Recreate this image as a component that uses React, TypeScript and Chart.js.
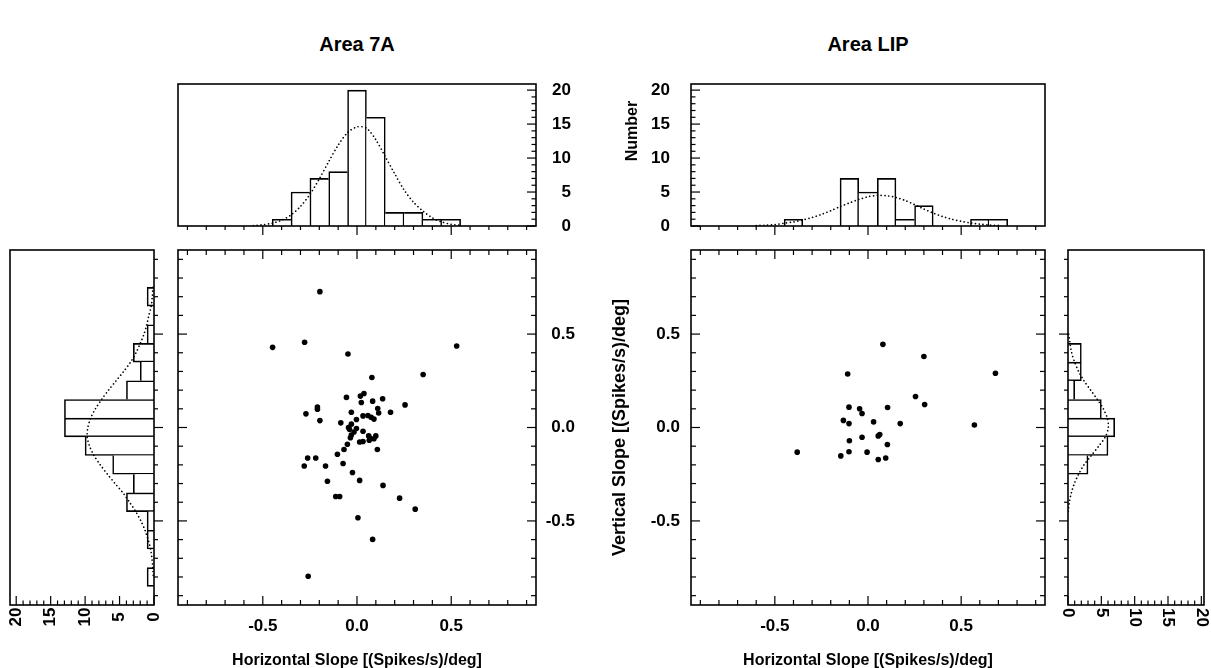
import React, { useEffect, useRef } from "react";
import { Chart, registerables } from "chart.js";

Chart.register(...registerables);

// ---------------- DATA ----------------
// Area 7A: horizontal slope histogram (top)
const binCenters7A_H = [-0.4, -0.3, -0.2, -0.1, 0.0, 0.1, 0.2, 0.3, 0.4, 0.5];
const counts7A_H = [1, 5, 7, 8, 20, 16, 2, 2, 1, 1];
// Area 7A: vertical slope histogram (side)
const binCenters7A_V = [0.7, 0.5, 0.4, 0.3, 0.2, 0.1, 0.0, -0.1, -0.2, -0.3, -0.4, -0.5, -0.6, -0.8];
const counts7A_V = [1, 1, 3, 2, 4, 13, 13, 10, 6, 3, 4, 1, 1, 1];
// Area LIP: horizontal slope histogram (top)
const binCentersLIP_H = [-0.4, -0.1, 0.0, 0.1, 0.2, 0.3, 0.6, 0.7];
const countsLIP_H = [1, 7, 5, 7, 1, 3, 1, 1];
// Area LIP: vertical slope histogram (side)
const binCentersLIP_V = [0.4, 0.3, 0.2, 0.1, 0.0, -0.1, -0.2];
const countsLIP_V = [2, 2, 1, 5, 7, 6, 3];

// Fitted (dotted) curves
const fit7A_H_x = [-0.55, -0.5, -0.45, -0.4, -0.35, -0.3, -0.25, -0.2, -0.15, -0.1, -0.05, 0.0, 0.05, 0.1, 0.15, 0.2, 0.25, 0.3, 0.35, 0.4, 0.45, 0.5, 0.55];
const fit7A_H_y = [0.07, 0.18, 0.41, 0.85, 1.63, 2.88, 4.66, 6.93, 9.48, 11.9, 13.74, 14.58, 14.4, 12.7, 10.2, 7.7, 5.3, 3.5, 2.2, 1.2, 0.6, 0.25, 0.1];
const fit7A_V_y = [0.75, 0.7, 0.65, 0.6, 0.55, 0.5, 0.45, 0.4, 0.35, 0.3, 0.25, 0.2, 0.15, 0.1, 0.05, 0.0, -0.05, -0.1, -0.15, -0.2, -0.25, -0.3, -0.35, -0.4, -0.45, -0.5, -0.55, -0.6, -0.65, -0.7, -0.75, -0.8];
const fit7A_V_n = [0.15, 0.25, 0.4, 0.75, 1.05, 1.45, 2.0, 2.6, 3.4, 4.4, 5.5, 6.6, 7.6, 8.5, 9.2, 9.6, 9.7, 9.35, 8.7, 7.8, 6.75, 5.65, 4.5, 3.55, 2.65, 1.9, 1.3, 0.85, 0.5, 0.3, 0.18, 0.1];
const fitLIP_H_x = [-0.6, -0.55, -0.5, -0.45, -0.4, -0.35, -0.3, -0.25, -0.2, -0.15, -0.1, -0.05, 0.0, 0.05, 0.1, 0.15, 0.2, 0.25, 0.3, 0.35, 0.4, 0.45, 0.5, 0.55, 0.6, 0.65, 0.7];
const fitLIP_H_y = [0.07, 0.12, 0.21, 0.4, 0.6, 0.9, 1.25, 1.7, 2.25, 2.85, 3.4, 3.9, 4.3, 4.5, 4.45, 4.2, 3.75, 3.15, 2.5, 1.9, 1.4, 1.0, 0.7, 0.45, 0.28, 0.15, 0.08];
const fitLIP_V_y = [0.5, 0.45, 0.4, 0.35, 0.3, 0.25, 0.2, 0.15, 0.1, 0.05, 0.0, -0.05, -0.1, -0.15, -0.2, -0.25, -0.3, -0.35, -0.4, -0.45];
const fitLIP_V_n = [0.11, 0.3, 0.55, 1.0, 1.6, 2.4, 3.4, 4.4, 5.3, 5.9, 6.05, 5.6, 4.6, 3.5, 2.4, 1.6, 0.95, 0.5, 0.2, 0.05];

// Scatter: Area 7A
const horiz7A = [-0.197, -0.448, -0.278, -0.048, 0.529, 0.351, 0.079, 0.255, 0.178, 0.136, 0.11, 0.115, 0.083, 0.037, 0.018, 0.023, -0.056, -0.03, -0.003, 0.032, 0.058, 0.075, 0.09, -0.21, -0.21, -0.271, -0.197, -0.086, -0.045, -0.03, -0.04, -0.003, -0.016, -0.03, -0.035, 0.032, 0.062, 0.09, 0.1, 0.014, 0.032, 0.108, -0.051, -0.069, -0.104, -0.262, -0.219, -0.28, -0.167, -0.074, -0.024, -0.157, 0.014, 0.138, -0.113, -0.092, 0.005, 0.083, 0.226, 0.309, -0.259, 0.07, 0.065];
const vert7A = [0.727, 0.429, 0.456, 0.393, 0.436, 0.284, 0.268, 0.121, 0.082, 0.154, 0.102, 0.078, 0.141, 0.182, 0.168, 0.134, 0.161, 0.082, 0.043, 0.062, 0.064, 0.055, 0.045, 0.11, 0.098, 0.073, 0.037, 0.025, 0.0, 0.018, -0.01, -0.005, -0.024, -0.04, -0.055, -0.02, -0.045, -0.06, -0.045, -0.078, -0.075, -0.118, -0.09, -0.118, -0.143, -0.163, -0.163, -0.206, -0.206, -0.193, -0.241, -0.288, -0.283, -0.31, -0.369, -0.369, -0.483, -0.599, -0.378, -0.437, -0.796, -0.058, -0.068];
// Scatter: Area LIP
const horizLIP = [0.08, 0.3, 0.684, -0.109, 0.255, 0.304, -0.102, -0.045, -0.032, 0.105, -0.132, -0.102, 0.03, 0.173, 0.571, -0.032, -0.1, 0.063, 0.055, 0.104, -0.38, -0.102, -0.005, -0.146, 0.055, 0.095];
const vertLIP = [0.445, 0.38, 0.29, 0.286, 0.166, 0.123, 0.109, 0.1, 0.075, 0.107, 0.038, 0.021, 0.03, 0.021, 0.013, -0.052, -0.071, -0.038, -0.045, -0.091, -0.132, -0.13, -0.132, -0.152, -0.171, -0.163];

// Axis ticks
const slopeTicks = [-0.5, 0, 0.5];
const slopeTickLabels = ["-0.5", "0.0", "0.5"];
const countTicks = [0, 5, 10, 15, 20];
const countTickLabels = ["0", "5", "10", "15", "20"];

// ---------------- HELPERS ----------------
const FAMILY = '"Liberation Sans", Arial, Helvetica, sans-serif';
const tickFont = { family: FAMILY, size: 17, weight: "bold" as const };
const titleFont = { family: FAMILY, size: 16, weight: "bold" as const };
const vTitleFont = { family: FAMILY, size: 18, weight: "bold" as const };
const LW = 1.6;

const pts = (xs: number[], ys: number[]) => xs.map((x, i) => ({ x, y: ys[i] }));
const fixedTicks = (vals: number[]) => (scale: any) => {
  scale.ticks = vals.map((v) => ({ value: v }));
};
const fitSize = (dim: "width" | "height", size: number) => (s: any) => {
  s[dim] = size;
  s.paddingTop = 0;
  s.paddingBottom = 0;
  s.paddingLeft = 0;
  s.paddingRight = 0;
};

function barBorders(centers: number[], counts: number[], horizontal: boolean, endSide: string, w: number) {
  return centers.map((c, i) => {
    const hi = centers.findIndex((d) => Math.abs(d - (c + 0.1)) < 1e-6);
    const lo = centers.findIndex((d) => Math.abs(d - (c - 0.1)) < 1e-6);
    const h = counts[i];
    const loEdge = lo < 0 || h > counts[lo] ? w : 0;
    const hiEdge = hi < 0 || h >= counts[hi] ? w : 0;
    if (!horizontal) return { left: loEdge, right: hiEdge, top: w, bottom: 0 };
    return { bottom: loEdge, top: hiEdge, left: endSide === "left" ? w : 0, right: endSide === "right" ? w : 0 };
  });
}

const framePlugin = {
  id: "frame",
  afterDraw(chart: any, _args: any, opts: any) {
    const { ctx, chartArea: a } = chart;
    ctx.save();
    ctx.strokeStyle = "#000";
    ctx.lineWidth = LW;
    ctx.strokeRect(a.left, a.top, a.right - a.left, a.bottom - a.top);
    ctx.lineWidth = 1.2;
    for (const t of opts.ticks || []) {
      const s = chart.scales[t.scale];
      const lo = Math.min(s.min, s.max);
      const hi = Math.max(s.min, s.max);
      const k0 = Math.ceil(lo / t.minor - 1e-6);
      const k1 = Math.floor(hi / t.minor + 1e-6);
      for (let k = k0; k <= k1; k++) {
        const v = k * t.minor;
        const major = Math.abs(v / t.major - Math.round(v / t.major)) < 1e-6;
        const len = major ? t.majorLen : t.minorLen;
        const p = s.getPixelForValue(v);
        ctx.beginPath();
        if (t.side === "bottom") {
          ctx.moveTo(p, a.bottom);
          ctx.lineTo(p, a.bottom + (t.inward ? -len : len));
        } else if (t.side === "top") {
          ctx.moveTo(p, a.top);
          ctx.lineTo(p, a.top + (t.inward ? len : -len));
        } else if (t.side === "left") {
          ctx.moveTo(a.left, p);
          ctx.lineTo(a.left + (t.inward ? len : -len), p);
        } else {
          ctx.moveTo(a.right, p);
          ctx.lineTo(a.right + (t.inward ? -len : len), p);
        }
        ctx.stroke();
      }
    }
    for (const L of opts.labels || []) {
      const s = chart.scales[L.scale];
      ctx.font = `bold ${tickFont.size}px ${FAMILY}`;
      ctx.fillStyle = "#000";
      L.values.forEach((v: number, i: number) => {
        const x = s.getPixelForValue(v);
        ctx.save();
        ctx.translate(x, a.bottom + L.offset);
        ctx.rotate((L.rotate * Math.PI) / 180);
        ctx.textAlign = L.align;
        ctx.textBaseline = "middle";
        ctx.fillText(L.texts[i], 0, 0);
        ctx.restore();
      });
    }
    ctx.restore();
  },
};

const baseOptions = (padding: any) => ({
  responsive: false,
  animation: false as const,
  devicePixelRatio: 1,
  layout: { padding },
});

const hiddenAxis = (min: number, max: number, ticks: number[], extra: any = {}) => ({
  type: "linear",
  min,
  max,
  display: false,
  offset: false,
  afterBuildTicks: fixedTicks(ticks),
  ...extra,
});

const shownAxis = (min: number, max: number, ticks: number[], labels: string[], extra: any) => ({
  type: "linear",
  min,
  max,
  offset: false,
  afterBuildTicks: fixedTicks(ticks),
  grid: { display: false, drawTicks: false },
  border: { display: false },
  ...extra,
  ticks: {
    color: "#000",
    font: tickFont,
    autoSkip: false,
    maxRotation: 0,
    callback: (_v: any, i: number) => labels[i],
    ...(extra.ticks || {}),
  },
});

const barDataset = (centers: number[], counts: number[], borders: any[], horizontal: boolean) => ({
  type: "bar",
  data: horizontal ? pts(counts, centers) : pts(centers, counts),
  backgroundColor: "#ffffff",
  borderColor: "#000000",
  borderWidth: (c: any) => borders[c.dataIndex] ?? LW,
  borderSkipped: false,
  barPercentage: 1,
  categoryPercentage: 1,
  order: 2,
});

const curveDataset = (data: any[]) => ({
  type: "line",
  data,
  borderColor: "#000000",
  borderWidth: 1.7,
  borderDash: [0.01, 3.8],
  borderCapStyle: "round",
  pointRadius: 0,
  tension: 0.3,
  fill: false,
  order: 1,
});

const scatterDataset = (xs: number[], ys: number[]) => ({
  data: pts(xs, ys),
  backgroundColor: "#000000",
  borderWidth: 0,
  pointRadius: 2.8,
});

const scatterTicks = [
  { scale: "x", side: "bottom", inward: true, minor: 0.1, major: 0.5, minorLen: 5, majorLen: 9 },
  { scale: "x", side: "top", inward: true, minor: 0.1, major: 0.5, minorLen: 5, majorLen: 9 },
  { scale: "y", side: "left", inward: true, minor: 0.1, major: 0.5, minorLen: 5, majorLen: 9 },
  { scale: "y", side: "right", inward: true, minor: 0.1, major: 0.5, minorLen: 5, majorLen: 9 },
];

const noLegend = { legend: { display: false }, tooltip: { enabled: false } };

const SL_MIN = -0.95;
const SL_MAX = 0.95;
const CNT_MAX = 20.9;
const CNT_MAX_R = 20.4;

// ---------------- CHART SPECS ----------------
function buildSpecs() {
  const b7AH = barBorders(binCenters7A_H, counts7A_H, false, "top", LW);
  const b7AV = barBorders(binCenters7A_V, counts7A_V, true, "left", LW);
  const bLIPH = barBorders(binCentersLIP_H, countsLIP_H, false, "top", LW);
  const bLIPV = barBorders(binCentersLIP_V, countsLIP_V, true, "right", LW);

  const hTitle = { display: true, text: "Horizontal Slope [(Spikes/s)/deg]", color: "#000", font: titleFont, padding: { top: 0, bottom: -2 } };

  const lSide = {
    left: 0, top: 240, w: 170, h: 428,
    config: {
      type: "bar",
      data: {
        datasets: [
          barDataset(binCenters7A_V, counts7A_V, b7AV, true),
          curveDataset(pts(fit7A_V_n, fit7A_V_y)),
        ],
      },
      options: {
        ...baseOptions({ left: 10, top: 10, right: 16, bottom: 63 }),
        indexAxis: "y",
        plugins: {
          ...noLegend,
          frame: {
            ticks: [
              { scale: "y", side: "right", inward: false, minor: 0.1, major: 0.5, minorLen: 4, majorLen: 9 },
              { scale: "x", side: "bottom", inward: true, minor: 1, major: 5, minorLen: 4.5, majorLen: 9 },
            ],
            labels: [{ scale: "x", values: countTicks, texts: countTickLabels, rotate: -90, align: "center", offset: 12 }],
          },
        },
        scales: {
          x: hiddenAxis(0, CNT_MAX, countTicks, { reverse: true }),
          y: hiddenAxis(SL_MIN, SL_MAX, slopeTicks),
        },
      },
      plugins: [framePlugin],
    },
  };

  const lTop = {
    left: 170, top: 70, w: 430, h: 170,
    config: {
      type: "bar",
      data: {
        datasets: [
          barDataset(binCenters7A_H, counts7A_H, b7AH, false),
          curveDataset(pts(fit7A_H_x, fit7A_H_y)),
        ],
      },
      options: {
        ...baseOptions({ left: 8, top: 14, right: 29, bottom: 14 }),
        plugins: {
          ...noLegend,
          frame: {
            ticks: [
              { scale: "x", side: "bottom", inward: false, minor: 0.1, major: 0.5, minorLen: 4, majorLen: 9 },
              { scale: "y", side: "right", inward: true, minor: 1, major: 5, minorLen: 4.5, majorLen: 9 },
            ],
          },
        },
        scales: {
          x: hiddenAxis(SL_MIN, SL_MAX, slopeTicks),
          y: shownAxis(0, CNT_MAX, countTicks, countTickLabels, {
            position: "right",
            afterFit: fitSize("width", 35),
            ticks: { padding: 12, crossAlign: "far" },
          }),
        },
      },
      plugins: [framePlugin],
    },
  };

  const lScatter = {
    left: 170, top: 240, w: 430, h: 428,
    config: {
      type: "scatter",
      data: { datasets: [scatterDataset(horiz7A, vert7A)] },
      options: {
        ...baseOptions({ left: 8, top: 10, right: 25, bottom: 0 }),
        plugins: { ...noLegend, frame: { ticks: scatterTicks } },
        scales: {
          x: shownAxis(SL_MIN, SL_MAX, slopeTicks, slopeTickLabels, {
            position: "bottom",
            afterFit: fitSize("height", 63),
            title: hTitle,
            ticks: { padding: 11 },
          }),
          y: shownAxis(SL_MIN, SL_MAX, slopeTicks, slopeTickLabels, {
            position: "right",
            afterFit: fitSize("width", 39),
            ticks: { padding: 8, crossAlign: "far" },
          }),
        },
      },
      plugins: [framePlugin],
    },
  };

  const rTop = {
    left: 600, top: 70, w: 460, h: 170,
    config: {
      type: "bar",
      data: {
        datasets: [
          barDataset(binCentersLIP_H, countsLIP_H, bLIPH, false),
          curveDataset(pts(fitLIP_H_x, fitLIP_H_y)),
        ],
      },
      options: {
        ...baseOptions({ left: 0, top: 14, right: 15, bottom: 14 }),
        plugins: {
          ...noLegend,
          frame: {
            ticks: [
              { scale: "x", side: "bottom", inward: false, minor: 0.1, major: 0.5, minorLen: 4, majorLen: 9 },
              { scale: "y", side: "left", inward: true, minor: 1, major: 5, minorLen: 4.5, majorLen: 9 },
            ],
          },
        },
        scales: {
          x: hiddenAxis(SL_MIN, SL_MAX, slopeTicks),
          y: shownAxis(0, CNT_MAX, countTicks, countTickLabels, {
            position: "left",
            afterFit: fitSize("width", 91),
            ticks: { padding: 21 },
          }),
        },
      },
      plugins: [framePlugin],
    },
  };

  const rScatter = {
    left: 600, top: 240, w: 460, h: 428,
    config: {
      type: "scatter",
      data: { datasets: [scatterDataset(horizLIP, vertLIP)] },
      options: {
        ...baseOptions({ left: 0, top: 10, right: 15, bottom: 0 }),
        plugins: { ...noLegend, frame: { ticks: scatterTicks } },
        scales: {
          x: shownAxis(SL_MIN, SL_MAX, slopeTicks, slopeTickLabels, {
            position: "bottom",
            afterFit: fitSize("height", 63),
            title: hTitle,
            ticks: { padding: 11 },
          }),
          y: shownAxis(SL_MIN, SL_MAX, slopeTicks, slopeTickLabels, {
            position: "left",
            afterFit: fitSize("width", 91),
            title: { display: true, text: "Vertical Slope [(Spikes/s)/deg]", color: "#000", font: vTitleFont, padding: { top: 9, bottom: 0 } },
            ticks: { padding: 11 },
          }),
        },
      },
      plugins: [framePlugin],
    },
  };

  const rSide = {
    left: 1056, top: 240, w: 155, h: 428,
    config: {
      type: "bar",
      data: {
        datasets: [
          barDataset(binCentersLIP_V, countsLIP_V, bLIPV, true),
          curveDataset(pts(fitLIP_V_n, fitLIP_V_y)),
        ],
      },
      options: {
        ...baseOptions({ left: 12, top: 10, right: 7, bottom: 63 }),
        indexAxis: "y",
        plugins: {
          ...noLegend,
          frame: {
            ticks: [
              { scale: "y", side: "left", inward: false, minor: 0.1, major: 0.5, minorLen: 4, majorLen: 9 },
              { scale: "x", side: "bottom", inward: true, minor: 1, major: 5, minorLen: 4.5, majorLen: 9 },
            ],
            labels: [{ scale: "x", values: countTicks, texts: countTickLabels, rotate: 90, align: "left", offset: 3 }],
          },
        },
        scales: {
          x: hiddenAxis(0, CNT_MAX_R, countTicks),
          y: hiddenAxis(SL_MIN, SL_MAX, slopeTicks),
        },
      },
      plugins: [framePlugin],
    },
  };

  return [lSide, lTop, lScatter, rTop, rScatter, rSide];
}

const SPECS = buildSpecs();

export default function App() {
  const refs = useRef<(HTMLCanvasElement | null)[]>([]);

  useEffect(() => {
    const charts = SPECS.map((s, i) => new Chart(refs.current[i] as HTMLCanvasElement, s.config as any));
    return () => charts.forEach((c) => c.destroy());
  }, []);

  const titleStyle = (cx: number): React.CSSProperties => ({
    position: "absolute",
    left: cx - 150,
    width: 300,
    top: 33,
    textAlign: "center",
    fontFamily: FAMILY,
    fontWeight: "bold",
    fontSize: 20,
    color: "#000",
  });

  return (
    <div style={{ position: "fixed", left: 0, top: 0, width: 1211, height: 668, background: "#fff", overflow: "hidden" }}>
      <div style={titleStyle(357)}>Area 7A</div>
      <div style={titleStyle(868)}>Area LIP</div>
      {SPECS.map((s, i) => (
        <canvas
          key={i}
          ref={(el) => { refs.current[i] = el; }}
          width={s.w}
          height={s.h}
          style={{ position: "absolute", left: s.left, top: s.top, width: s.w, height: s.h }}
        />
      ))}
      <div
        style={{
          position: "absolute",
          left: 632 - 50,
          top: 131 - 10,
          width: 100,
          height: 20,
          lineHeight: "20px",
          textAlign: "center",
          transform: "rotate(-90deg)",
          fontFamily: FAMILY,
          fontWeight: "bold",
          fontSize: 16,
          color: "#000",
        }}
      >
        Number
      </div>
    </div>
  );
}
